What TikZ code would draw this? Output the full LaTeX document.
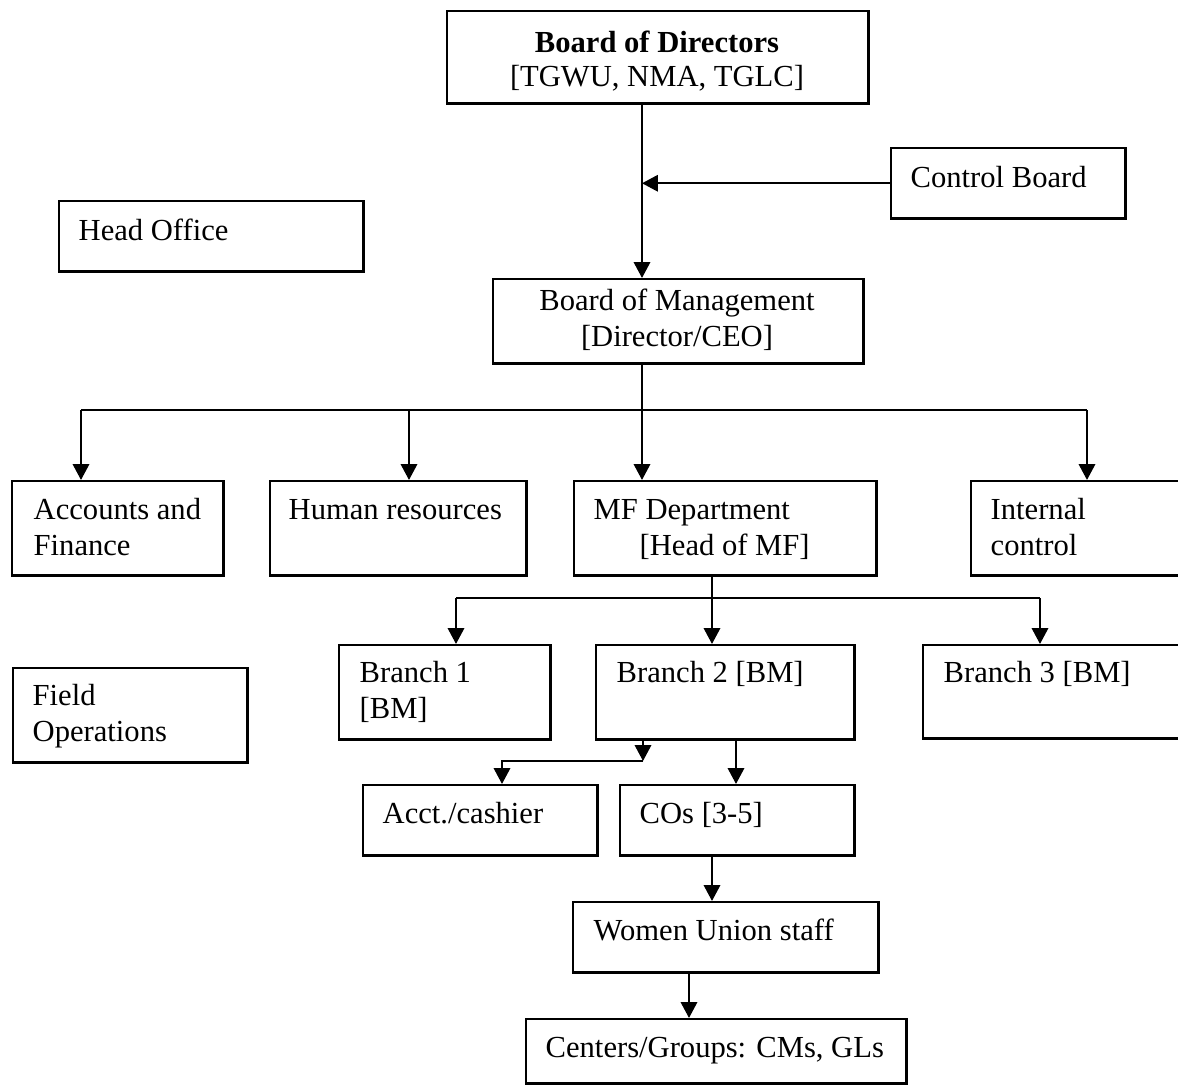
\documentclass[tikz,border=0pt]{standalone}
\usepackage{fontspec}
\setmainfont{Liberation Serif}
\usetikzlibrary{arrows.meta}

\tikzset{
  unit/.style={draw, line width=0.7pt, inner sep=0pt, anchor=north west},
  lbl/.style={anchor=base west, inner sep=0pt, font=\fontsize{8.7}{10}\selectfont},
  clbl/.style={lbl, anchor=base},
  link/.style={line width=0.7pt, -{Triangle[length=4.5pt,width=4.6pt]}},
  bus/.style={line width=0.7pt}
}

\begin{document}
\begin{tikzpicture}[x=0.01cm, y=-0.01cm]
    \useasboundingbox (0,0) rectangle (1178,1084);

    % Kopf: Aufsicht und Leitung
    \node[unit, minimum width=4.21cm, minimum height=0.92cm] (bod) at (446,10) {};
    \node[clbl, font=\fontsize{8.7}{10}\selectfont\bfseries] (bod-t1) at (657,52) {Board of Directors};
    \node[clbl] (bod-t2) at (657,86) {[TGWU, NMA, TGLC]};

    \node[unit, minimum width=2.34cm, minimum height=0.70cm] (cb) at (890,147) {};
    \node[lbl] (cb-t) at (910,187) {Control Board};

    \node[unit, minimum width=3.04cm, minimum height=0.70cm] (ho) at (58,200) {};
    \node[lbl] (ho-t) at (78,240) {Head Office};

    \node[unit, minimum width=3.70cm, minimum height=0.84cm] (bom) at (492,278) {};
    \node[clbl] (bom-t1) at (677,310) {Board of Management};
    \node[clbl] (bom-t2) at (677,346) {[Director/CEO]};

    % Abteilungen
    \node[unit, minimum width=2.11cm, minimum height=0.94cm] (acc) at (11,480) {};
    \node[lbl] (acc-t1) at (33,519) {Accounts and};
    \node[lbl] (acc-t2) at (33,555) {Finance};

    \node[unit, minimum width=2.56cm, minimum height=0.94cm] (hr) at (269,480) {};
    \node[lbl] (hr-t) at (288,519) {Human resources};

    \node[unit, minimum width=3.02cm, minimum height=0.94cm] (mf) at (573,480) {};
    \node[lbl] (mf-t1) at (593,519) {MF Department};
    \node[lbl] (mf-t2) at (639,555) {[Head of MF]};

    \node[unit, minimum width=2.30cm, minimum height=0.94cm] (ic) at (970,480) {};
    \node[lbl] (ic-t1) at (990,519) {Internal};
    \node[lbl] (ic-t2) at (990,555) {control};

    % Feld
    \node[unit, minimum width=2.34cm, minimum height=0.94cm] (fo) at (12,667) {};
    \node[lbl] (fo-t1) at (32,705) {Field};
    \node[lbl] (fo-t2) at (32,741) {Operations};

    \node[unit, minimum width=2.11cm, minimum height=0.94cm] (br1) at (338,644) {};
    \node[lbl] (br1-t1) at (359,682) {Branch 1};
    \node[lbl] (br1-t2) at (359,718) {[BM]};

    \node[unit, minimum width=2.58cm, minimum height=0.94cm] (br2) at (595,644) {};
    \node[lbl] (br2-t) at (616,682) {Branch 2 [BM]};

    \node[unit, minimum width=2.70cm, minimum height=0.93cm] (br3) at (922,644) {};
    \node[lbl] (br3-t) at (943,682) {Branch 3 [BM]};

    \node[unit, minimum width=2.34cm, minimum height=0.70cm] (cash) at (362,784) {};
    \node[lbl] (cash-t) at (382,823) {Acct./cashier};

    \node[unit, minimum width=2.34cm, minimum height=0.70cm] (cos) at (619,784) {};
    \node[lbl] (cos-t) at (639,823) {COs [3-5]};

    \node[unit, minimum width=3.05cm, minimum height=0.70cm] (wu) at (572,901) {};
    \node[lbl] (wu-t) at (593,940) {Women Union staff};

    \node[unit, minimum width=3.80cm, minimum height=0.64cm] (cg) at (525,1018) {};
    \node[lbl] (cg-t) at (545,1057) {Centers/Groups: CMs, GLs};

    % Hilfspunkte
    \coordinate (spine) at (642,0);
    \coordinate (bus1) at (642,410);
    \coordinate (bus2) at (712,598);
    \coordinate (split) at (643,761);

    % Verbindungen oben
    \draw[link] (bod.south -| spine) -- (bom.north -| spine);
    \draw[link] (cb.west) -- (cb.west -| spine);

    % Verteiler unter der Leitung
    \draw[bus] (bom.south -| bus1) -- (bus1);
    \draw[bus] (81,410) coordinate (d1) -- (1087,410) coordinate (d4);
    \coordinate (d2) at (409,410);
    \draw[link] (d1) -- (d1 |- acc.north);
    \draw[link] (d2) -- (d2 |- hr.north);
    \draw[link] (bus1) -- (bus1 |- mf.north);
    \draw[link] (d4) -- (d4 |- ic.north);

    % Verteiler unter MF
    \draw[bus] (mf.south -| bus2) -- (bus2);
    \draw[bus] (456,598) coordinate (e1) -- (1040,598) coordinate (e3);
    \draw[link] (e1) -- (e1 |- br1.north);
    \draw[link] (bus2) -- (bus2 |- br2.north);
    \draw[link] (e3) -- (e3 |- br3.north);

    % Filiale 2
    \draw[link] (br2.south -| split) -- (split);
    \draw[link] (split) -- (502,761) coordinate (e4) -- (e4 |- cash.north);
    \coordinate (e5) at (736,0);
    \draw[link] (br2.south -| e5) -- (cos.north -| e5);

    % nach unten
    \coordinate (e6) at (712,0);
    \coordinate (e7) at (689,0);
    \draw[link] (cos.south -| e6) -- (wu.north -| e6);
    \draw[link] (wu.south -| e7) -- (cg.north -| e7);
\end{tikzpicture}
\end{document}
